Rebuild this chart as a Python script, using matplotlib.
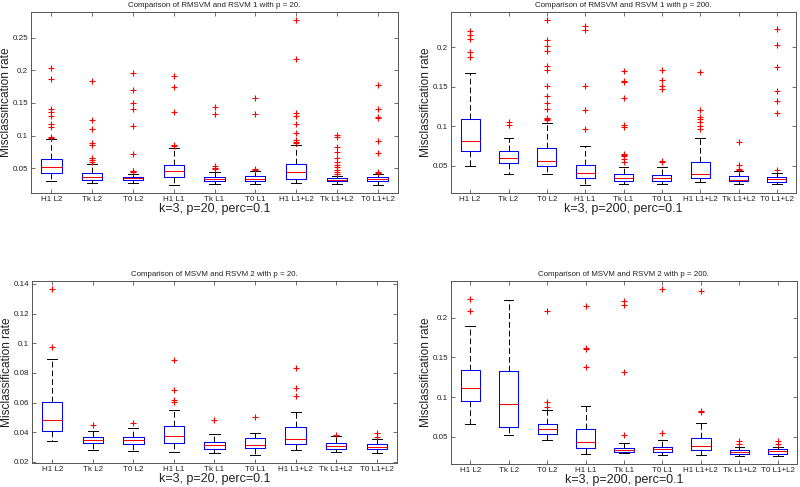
import numpy as np
import matplotlib
matplotlib.use('Agg')
import matplotlib.pyplot as plt
from matplotlib.ticker import MultipleLocator, FuncFormatter

plt.rcParams['font.family'] = ['Liberation Sans', 'DejaVu Sans']

labels = ['H1 L2', 'Tk L2', 'T0 L2', 'H1 L1', 'Tk L1', 'T0 L1', 'H1 L1+L2', 'Tk L1+L2', 'T0 L1+L2']

# RMSVM vs RSVM 1, p = 20
rm20_med = [0.0520, 0.0362, 0.0341, 0.0448, 0.0332, 0.0336, 0.0439, 0.0321, 0.0331]
rm20_q1 = [0.0423, 0.0321, 0.0310, 0.0362, 0.0296, 0.0295, 0.0336, 0.0295, 0.0295]
rm20_q3 = [0.0638, 0.0423, 0.0367, 0.0546, 0.0360, 0.0377, 0.0561, 0.0341, 0.0356]
rm20_lo = [0.0300, 0.0270, 0.0270, 0.0244, 0.0255, 0.0255, 0.0270, 0.0255, 0.0244]
rm20_hi = [0.0944, 0.0566, 0.0415, 0.0816, 0.0439, 0.0448, 0.0852, 0.0382, 0.0405]
rm20_out = [
    [0.2031, 0.1863, 0.1413, 0.1362, 0.1306, 0.1174, 0.1137, 0.0985, 0.0955],
    [0.1837, 0.1235, 0.1102, 0.0883, 0.0850, 0.0658, 0.0630, 0.0600],
    [0.1955, 0.1694, 0.1495, 0.1413, 0.1148, 0.0724, 0.0463, 0.0448, 0.0433],
    [0.1918, 0.1745, 0.1358, 0.0855, 0.0835],
    [0.1443, 0.1332, 0.0525, 0.0500, 0.0485],
    [0.1576, 0.1332, 0.0479, 0.0466],
    [0.2771, 0.2174, 0.1342, 0.1301, 0.1174, 0.1036, 0.0929, 0.0908, 0.0892],
    [0.1010, 0.0980, 0.0831, 0.0750, 0.0655, 0.0595, 0.0545, 0.0510, 0.0475, 0.0445, 0.0415],
    [0.1771, 0.1408, 0.1290, 0.1266, 0.0918, 0.0734, 0.0439, 0.0423],
]

# RMSVM vs RSVM 1, p = 200
rm200_med = [0.0816, 0.0593, 0.0563, 0.0404, 0.0345, 0.0348, 0.0395, 0.0319, 0.0323]
rm200_q1 = [0.0682, 0.0530, 0.0492, 0.0336, 0.0310, 0.0303, 0.0340, 0.0303, 0.0294]
rm200_q3 = [0.1094, 0.0690, 0.0720, 0.0509, 0.0391, 0.0386, 0.0543, 0.0366, 0.0353]
rm200_lo = [0.0500, 0.0395, 0.0395, 0.0256, 0.0270, 0.0269, 0.0285, 0.0269, 0.0260]
rm200_hi = [0.1668, 0.0850, 0.1044, 0.0749, 0.0487, 0.0487, 0.0850, 0.0425, 0.0404]
rm200_out = [
    [0.2207, 0.2152, 0.2102, 0.1934, 0.1878],
    [0.1052, 0.1011],
    [0.2342, 0.2085, 0.2013, 0.1954, 0.1760, 0.1706, 0.1508, 0.1377, 0.1293, 0.1213, 0.1103, 0.1087, 0.1074],
    [0.2275, 0.2216, 0.1508, 0.1204, 0.0960],
    [0.1697, 0.1570, 0.1555, 0.1352, 0.1015, 0.0985, 0.0650, 0.0635, 0.0615, 0.0580, 0.0550],
    [0.1710, 0.1583, 0.1508, 0.1466, 0.0552, 0.0540],
    [0.1689, 0.1204, 0.1115, 0.1095, 0.1050, 0.1000, 0.0965],
    [0.0796, 0.0509, 0.0454, 0.0437],
    [0.2228, 0.2030, 0.1752, 0.1440, 0.1314, 0.1162, 0.0446],
]

# MSVM vs RSVM 2, p = 20
m20_med = [0.0481, 0.0347, 0.0347, 0.0374, 0.0316, 0.0314, 0.0356, 0.0307, 0.0300]
m20_q1 = [0.0412, 0.0325, 0.0318, 0.0329, 0.0289, 0.0296, 0.0318, 0.0289, 0.0287]
m20_q3 = [0.0607, 0.0369, 0.0371, 0.0440, 0.0338, 0.0360, 0.0438, 0.0325, 0.0318]
m20_lo = [0.0340, 0.0280, 0.0273, 0.0267, 0.0258, 0.0249, 0.0284, 0.0267, 0.0262]
m20_hi = [0.0897, 0.0407, 0.0427, 0.0549, 0.0391, 0.0396, 0.0538, 0.0376, 0.0356]
m20_out = [
    [0.1364, 0.0975],
    [0.0447],
    [0.0465],
    [0.0885, 0.0685, 0.0618, 0.0605],
    [0.0485],
    [0.0503],
    [0.0835, 0.0698, 0.0645],
    [0.0380],
    [0.0398, 0.0369],
]

# MSVM vs RSVM 2, p = 200
m200_med = [0.1110, 0.0912, 0.0599, 0.0430, 0.0335, 0.0343, 0.0380, 0.0310, 0.0314]
m200_q1 = [0.0945, 0.0624, 0.0537, 0.0352, 0.0310, 0.0310, 0.0335, 0.0286, 0.0286]
m200_q3 = [0.1337, 0.1324, 0.0661, 0.0591, 0.0364, 0.0376, 0.0488, 0.0335, 0.0343]
m200_lo = [0.0665, 0.0521, 0.0455, 0.0282, 0.0290, 0.0273, 0.0273, 0.0261, 0.0261]
m200_hi = [0.1889, 0.2228, 0.0842, 0.0891, 0.0426, 0.0459, 0.0673, 0.0373, 0.0373]
m200_out = [
    [0.2231, 0.2082],
    [],
    [0.2082, 0.0933, 0.0879],
    [0.2144, 0.1614, 0.1600, 0.1374],
    [0.2212, 0.2157, 0.1316, 0.0520],
    [0.2357, 0.0541],
    [0.2341, 0.0826, 0.0815],
    [0.0447, 0.0414],
    [0.0447, 0.0414],
]

panels = [
    (rm20_med, rm20_q1, rm20_q3, rm20_lo, rm20_hi, rm20_out,
     'Comparison of RMSVM and RSVM 1 with p = 20.', 'k=3, p=20, perc=0.1', 0.05),
    (rm200_med, rm200_q1, rm200_q3, rm200_lo, rm200_hi, rm200_out,
     'Comparison of RMSVM and RSVM 1 with p = 200.', 'k=3, p=200, perc=0.1', 0.05),
    (m20_med, m20_q1, m20_q3, m20_lo, m20_hi, m20_out,
     'Comparison of MSVM and RSVM 2 with p = 20.', 'k=3, p=20, perc=0.1', 0.02),
    (m200_med, m200_q1, m200_q3, m200_lo, m200_hi, m200_out,
     'Comparison of MSVM and RSVM 2 with p = 200.', 'k=3, p=200, perc=0.1', 0.05),
]

# axes rectangles in figure fractions (800x487 px)
rects = [
    [31/800, 1-193/487, 367/800, 181/487],
    [451/800, 1-193/487, 345/800, 181/487],
    [32/800, 1-463/487, 365/800, 182/487],
    [451/800, 1-464/487, 346/800, 183/487],
]

fig = plt.figure(figsize=(8, 4.87), dpi=100)
frame = '#555555'

for rect, (med, q1, q3, lo, hi, out, title, xlab, step) in zip(rects, panels):
    ax = fig.add_axes(rect)
    stats = []
    for i in range(len(labels)):
        stats.append(dict(med=med[i], q1=q1[i], q3=q3[i], whislo=lo[i], whishi=hi[i],
                          fliers=out[i], label=labels[i]))
    ax.bxp(stats, positions=np.arange(1, 10), widths=0.5, capwidths=0.25,
           boxprops=dict(color='#0000ff', lw=0.75),
           medianprops=dict(color='#ff0000', lw=0.75),
           whiskerprops=dict(color='black', lw=0.7, linestyle=(0, (6, 3))),
           capprops=dict(color='black', lw=0.7),
           flierprops=dict(marker='+', color='#ff0000', markeredgecolor='#ff0000',
                           markerfacecolor='#ff0000', markersize=5, markeredgewidth=0.8))

    # MATLAB-style limits: data range padded by 5%
    allv = lo + [v for o in out for v in o]
    ymin, ymax = min(allv), max(allv)
    pad = 0.05 * (ymax - ymin)
    ax.set_ylim(ymin - pad, ymax + pad)
    ax.set_xlim(0.5, 9.5)
    ax.yaxis.set_major_locator(MultipleLocator(step))
    ax.yaxis.set_major_formatter(FuncFormatter(lambda v, p: f'{v:g}'))

    ax.tick_params(axis='both', direction='in', length=3, width=0.6, color=frame,
                   labelsize=5.8, labelcolor='#222222', pad=2,
                   top=True, right=True)
    for s in ax.spines.values():
        s.set_color(frame)
        s.set_linewidth(0.7)

    ax.set_title(title, fontsize=5.7, pad=3.5, color='#222222')
    ax.set_xlabel(xlab, fontsize=9, labelpad=0, color='#222222')
    ax.set_ylabel('Misclassification rate', fontsize=8.6, labelpad=0.5, color='#222222')

fig.savefig('out.png', dpi=100)
